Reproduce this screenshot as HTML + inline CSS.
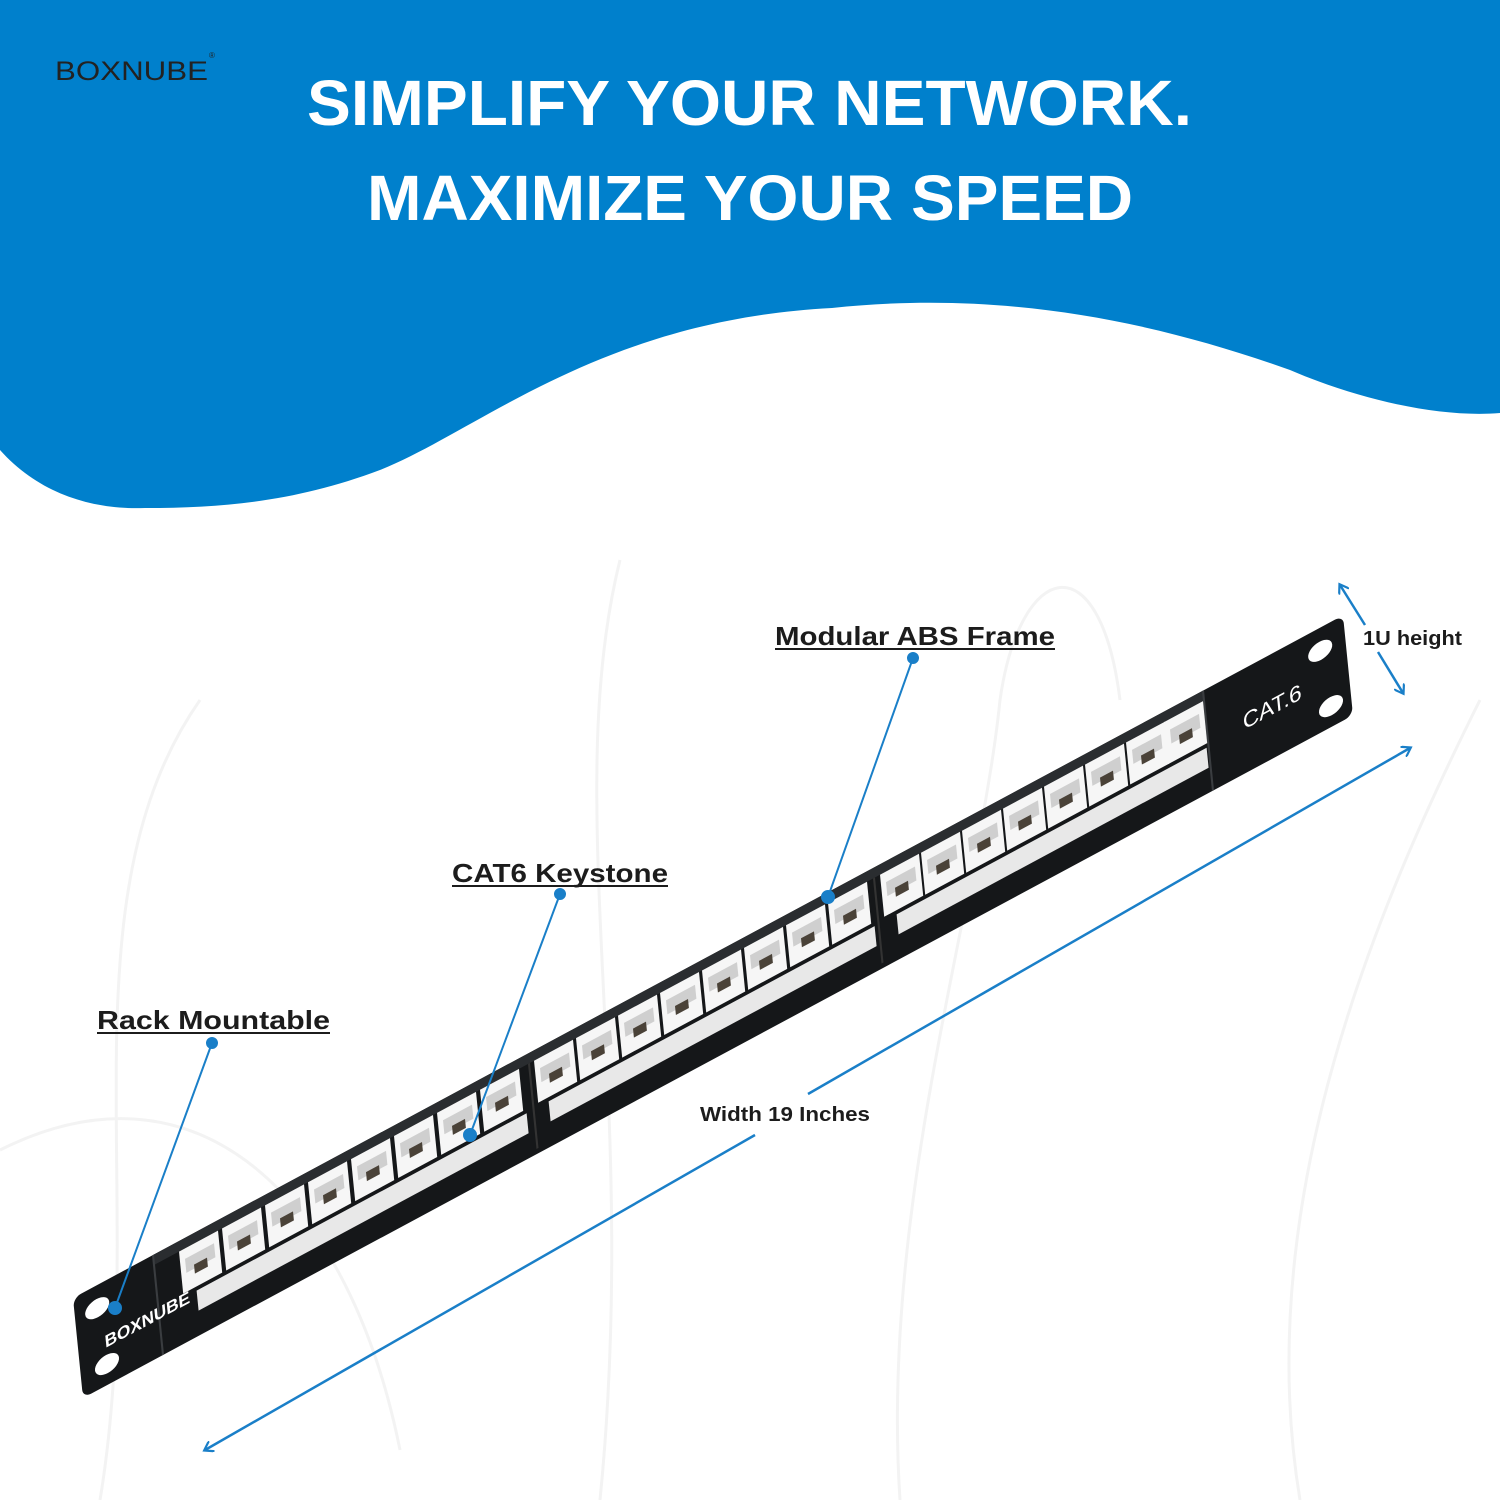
<!DOCTYPE html>
<html><head><meta charset="utf-8"><style>
html,body{margin:0;padding:0;background:#fff;}
svg{display:block;}
text{font-family:"Liberation Sans",sans-serif;}
</style></head><body>
<svg width="1500" height="1500" viewBox="0 0 1500 1500" xmlns="http://www.w3.org/2000/svg">
<defs>
<marker id="ah" markerWidth="12" markerHeight="12" refX="8" refY="6" orient="auto-start-reverse" markerUnits="userSpaceOnUse">
<path d="M0,0 L9,6 L0,12" fill="none" stroke="#1a7fc8" stroke-width="2.2"/>
</marker>
<g id="port">
<rect x="0" y="0" width="39" height="42" fill="#f6f6f6"/>
<rect x="5" y="10" width="29" height="14" fill="#cfcfcf"/>
<rect x="13" y="20" width="13" height="9" fill="#4a4238"/>
</g>
</defs>
<rect width="1500" height="1500" fill="#fff"/>
<g fill="none" stroke="#f3f3f3" stroke-width="3">
<path d="M100,1500 C150,1200 60,900 200,700"/>
<path d="M600,1500 C640,1100 560,800 620,560"/>
<path d="M900,1500 C880,1200 980,900 1000,700 C1020,560 1100,540 1120,700"/>
<path d="M1300,1500 C1250,1200 1380,900 1480,700"/>
<path d="M0,1150 C200,1050 350,1200 400,1450"/>
</g>
<path d="M0,0 H1500 V413 C1440,418 1360,400 1290,370 C1150,320 1000,290 832,308 C600,320 480,430 380,470 C300,500 230,508 145,508 C95,510 40,495 0,450 Z" fill="#0080cc"/>
<text x="55" y="80" font-size="27" fill="#222" textLength="153" lengthAdjust="spacingAndGlyphs">BOXNUBE</text>
<text x="209" y="58" font-size="8" fill="#222">®</text>
<text x="307" y="125" font-size="64" font-weight="bold" fill="#fff" textLength="885" lengthAdjust="spacingAndGlyphs">SIMPLIFY YOUR NETWORK.</text>
<text x="367" y="220" font-size="64" font-weight="bold" fill="#fff" textLength="766" lengthAdjust="spacingAndGlyphs">MAXIMIZE YOUR SPEED</text>

<g transform="matrix(1,-0.5375,0.1,1.0,78,1348)">
<rect x="0" y="-50" width="1270" height="100" rx="8" fill="#151719"/>
<rect x="80" y="-50" width="1050" height="10" fill="#2a2d30"/>
<line x1="80" y1="-50" x2="80" y2="50" stroke="#3a3d40" stroke-width="2"/>
<line x1="1130" y1="-50" x2="1130" y2="50" stroke="#3a3d40" stroke-width="2"/>
<line x1="455" y1="-40" x2="455" y2="45" stroke="#333" stroke-width="2"/>
<line x1="800" y1="-40" x2="800" y2="45" stroke="#333" stroke-width="2"/>
<ellipse cx="22" cy="-28" rx="12" ry="9" fill="#fff"/>
<ellipse cx="26" cy="30" rx="12" ry="9" fill="#fff"/>
<ellipse cx="1245" cy="-28" rx="12" ry="9" fill="#fff"/>
<ellipse cx="1250" cy="30" rx="12" ry="9" fill="#fff"/>
<text x="1165" y="8" font-size="22" fill="#fff">CAT.6</text>
<text x="26" y="14" font-size="17" font-weight="bold" fill="#fff">BOXNUBE</text>
<use href="#port" x="105" y="-40"/><use href="#port" x="148" y="-40"/><use href="#port" x="191" y="-40"/><use href="#port" x="234" y="-40"/><use href="#port" x="277" y="-40"/><use href="#port" x="320" y="-40"/><use href="#port" x="363" y="-40"/><use href="#port" x="406" y="-40"/>
<use href="#port" x="460" y="-40"/><use href="#port" x="502" y="-40"/><use href="#port" x="544" y="-40"/><use href="#port" x="586" y="-40"/><use href="#port" x="628" y="-40"/><use href="#port" x="670" y="-40"/><use href="#port" x="712" y="-40"/><use href="#port" x="754" y="-40"/>
<use href="#port" x="806" y="-40"/><use href="#port" x="847" y="-40"/><use href="#port" x="888" y="-40"/><use href="#port" x="929" y="-40"/><use href="#port" x="970" y="-40"/><use href="#port" x="1011" y="-40"/><use href="#port" x="1052" y="-40"/><use href="#port" x="1090" y="-40"/>
<g fill="#e8e8e8">
<rect x="118" y="6" width="330" height="20"/>
<rect x="470" y="6" width="326" height="20"/>
<rect x="818" y="6" width="310" height="20"/>
</g>
</g>

<g stroke="#1a7fc8" stroke-width="2" fill="#1a7fc8">
<line x1="913" y1="658" x2="828" y2="897"/><circle cx="913" cy="658" r="5"/><circle cx="828" cy="897" r="6"/>
<line x1="560" y1="894" x2="470" y2="1135"/><circle cx="560" cy="894" r="5"/><circle cx="470" cy="1135" r="6"/>
<line x1="212" y1="1043" x2="115" y2="1308"/><circle cx="212" cy="1043" r="5"/><circle cx="115" cy="1308" r="6"/>
</g>
<g stroke="#1a7fc8" stroke-width="2.5" fill="none">
<line x1="205" y1="1450" x2="755" y2="1135" marker-start="url(#ah)"/>
<line x1="808" y1="1094" x2="1410" y2="748" marker-end="url(#ah)"/>
<line x1="1340" y1="585" x2="1365" y2="625" marker-start="url(#ah)"/>
<line x1="1378" y1="652" x2="1403" y2="693" marker-end="url(#ah)"/>
</g>

<g font-weight="bold" fill="#1c1c1c">
<text x="775" y="645" font-size="26" textLength="280" lengthAdjust="spacingAndGlyphs">Modular ABS Frame</text>
<text x="452" y="882" font-size="26" textLength="216" lengthAdjust="spacingAndGlyphs">CAT6 Keystone</text>
<text x="97" y="1029" font-size="26" textLength="233" lengthAdjust="spacingAndGlyphs">Rack Mountable</text>
</g>
<line x1="775" y1="649" x2="1055" y2="649" stroke="#1c1c1c" stroke-width="2"/>
<line x1="452" y1="886" x2="668" y2="886" stroke="#1c1c1c" stroke-width="2"/>
<line x1="97" y1="1033" x2="330" y2="1033" stroke="#1c1c1c" stroke-width="2"/>
<text x="1363" y="645" font-size="20" font-weight="bold" fill="#1c1c1c" textLength="99" lengthAdjust="spacingAndGlyphs">1U height</text>
<text x="700" y="1121" font-size="20" font-weight="bold" fill="#1c1c1c" textLength="170" lengthAdjust="spacingAndGlyphs">Width 19 Inches</text>
</svg>
</body></html>
